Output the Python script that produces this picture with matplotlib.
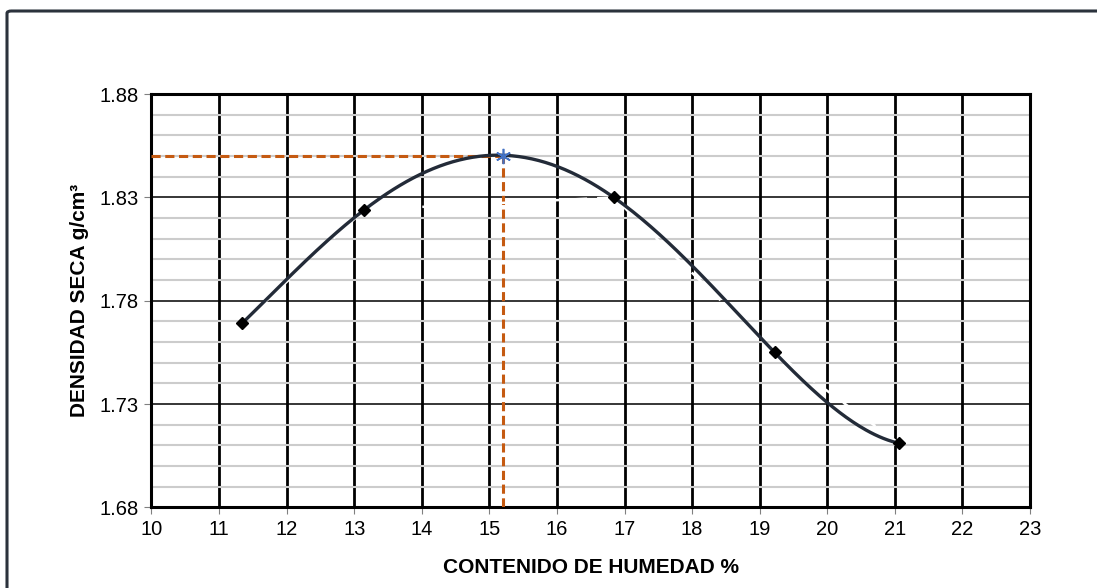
import numpy as np
import matplotlib.pyplot as plt
import matplotlib.ticker as mtick
from matplotlib.patches import FancyBboxPatch

# ensayo proctor: contenido de humedad (%) vs densidad seca (g/cm3)
humedad = [11.34, 13.15, 16.84, 19.22, 21.06]
densidad = [1.769, 1.824, 1.830, 1.755, 1.711]
hum_optima = 15.2
dens_max = 1.85

x_ticks = [10, 11, 12, 13, 14, 15, 16, 17, 18, 19, 20, 21, 22, 23]
y_ticks = [1.68, 1.73, 1.78, 1.83, 1.88]

plt.rcParams['font.family'] = ['Liberation Sans Narrow', 'Liberation Sans', 'DejaVu Sans']

fig = plt.figure(figsize=(10.97, 5.88), dpi=100)
ax = fig.add_axes([0.1381, 0.1372, 0.8008, 0.7029])

# marco exterior
frame = FancyBboxPatch((7 / 1097, -0.1), 1.2, 1 - 11 / 588 + 0.1,
                       boxstyle='round,pad=0,rounding_size=0.004',
                       transform=fig.transFigure, fill=False,
                       ec='#2b323c', lw=2.2, zorder=0)
fig.patches.append(frame)

ax.set_xlim(10, 23)
ax.set_ylim(1.68, 1.88)
ax.set_xticks(x_ticks)
ax.set_yticks(y_ticks)
ax.yaxis.set_major_formatter(mtick.FormatStrFormatter('%.2f'))
ax.yaxis.set_minor_locator(mtick.MultipleLocator(0.01))

ax.grid(which='minor', axis='y', color='#cccccc', lw=1.5)
ax.grid(which='major', axis='y', color='black', lw=1.1)
ax.grid(which='major', axis='x', color='black', lw=2.0)
ax.set_axisbelow(True)

for s in ax.spines.values():
    s.set_linewidth(2.2)
    s.set_color('black')

ax.tick_params(axis='both', which='major', length=5, width=0.8, color='#808080',
               labelsize=14.5, pad=4)
ax.tick_params(axis='y', which='minor', length=0)

# lineas de humedad optima / densidad maxima
ax.plot([10, hum_optima], [dens_max, dens_max], color='#c55a11', lw=2.2,
        ls=(0, (3, 1.5)), zorder=3)
ax.plot([hum_optima, hum_optima], [1.68, dens_max], color='#c55a11', lw=2.2,
        ls=(0, (3, 1.5)), zorder=3)

# serie (linea blanca discontinua) y linea de tendencia polinomica
ax.plot(humedad, densidad, color='white', lw=1.8, ls=(0, (6, 4)), zorder=4)
coef = np.polyfit(humedad, densidad, 4)
xs = np.linspace(min(humedad), max(humedad), 300)
ax.plot(xs, np.polyval(coef, xs), color='#232b38', lw=2.4, zorder=5)
ax.plot(humedad, densidad, ls='none', marker='D', ms=6, color='black', zorder=6)

ax.plot([hum_optima], [dens_max], ls='none', marker=(6, 2, 0), ms=11,
        mec='#4472c4', mew=1.2, zorder=7)

ax.set_xlabel('CONTENIDO DE HUMEDAD %', fontsize=15, fontweight='bold', labelpad=14)
ax.set_ylabel('DENSIDAD SECA g/cm³', fontsize=15, fontweight='bold', labelpad=8)

plt.savefig('out.png', dpi=100)
